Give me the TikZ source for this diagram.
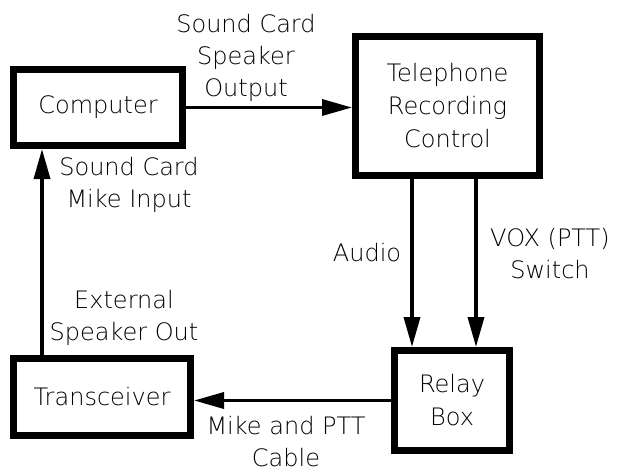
\documentclass[tikz,border=0pt]{standalone}
\usepackage{fontspec}
\setmainfont{DejaVu Sans ExtraLight}
\usetikzlibrary{arrows.meta}
\begin{document}
\begin{tikzpicture}[x=1pt,y=-1pt,
  block/.style={draw=black,line width=7pt,fill=white,inner sep=0pt,align=center,font=\fontsize{24}{33}\selectfont},
  lbl/.style={inner sep=0pt,align=center,font=\fontsize{24}{32}\selectfont},
  conn/.style={line width=3.5pt,-{Triangle[length=30pt,width=16pt]}},
  wire/.style={line width=3.5pt}]
\useasboundingbox (0,0) rectangle (619,472);
\node[block,minimum width=169pt,minimum height=76pt] (comp) at (98,107.5) {Computer};
\node[block,minimum width=184pt,minimum height=139pt] (tel) at (447.5,106) {Telephone\\Recording\\Control};
\node[block,minimum width=177pt,minimum height=77pt] (trans) at (102,397) {Transceiver};
\node[block,minimum width=115pt,minimum height=100pt] (relay) at (452,400.5) {Relay\\Box};
\draw[conn] (comp.east) -- (comp.east -| tel.west);
\draw[conn] ([xshift=-40pt]relay.north |- tel.south) -- ([xshift=-40pt]relay.north);
\draw[conn] ([xshift=24pt]relay.north |- tel.south) -- ([xshift=24pt]relay.north);
\draw[conn] (relay.west) -- (relay.west -| trans.east);
\draw[conn] ([xshift=-60pt]trans.north) -- ([xshift=-60pt]trans.north |- comp.south);
\node[lbl] (l1) at (246,58) {Sound Card\\Speaker\\Output};
\node[lbl] (l2) at (129,185) {Sound Card\\Mike Input};
\node[lbl] (l3) at (124,318) {External\\Speaker Out};
\node[lbl] (l4) at (367,253) {Audio};
\node[lbl] (l5) at (550,254) {VOX (PTT)\\Switch};
\node[lbl] (l6) at (286,442) {Mike and PTT\\Cable};
\end{tikzpicture}
\end{document}
